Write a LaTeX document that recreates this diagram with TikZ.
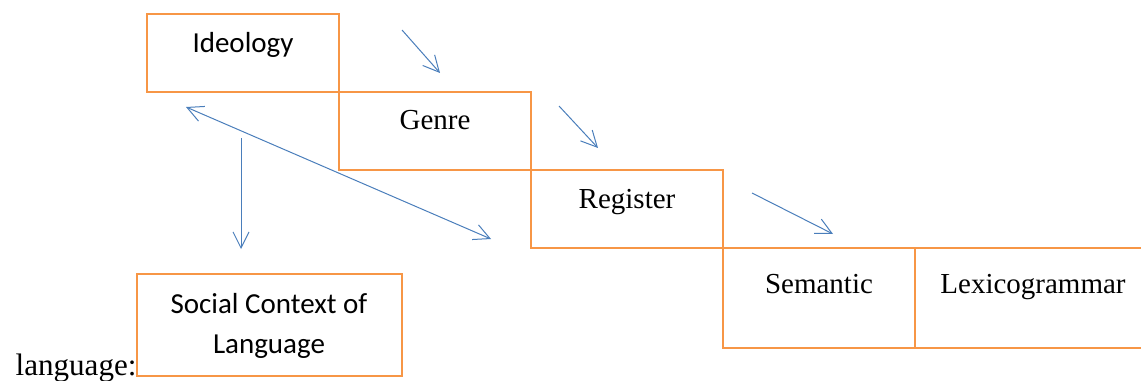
\documentclass[tikz,border=0pt]{standalone}
\usepackage{fontspec}
\setmainfont{Liberation Serif}
\newfontfamily\calibri{Carlito}
\usepackage{tikz}
\usetikzlibrary{arrows.meta}
\definecolor{orangecadre}{HTML}{F79646}
\definecolor{bleufleche}{HTML}{4A7EBB}

\begin{document}
\begin{tikzpicture}[x=0.75pt,y=-0.75pt,
  cadre/.style={draw=\colcadre,line width=2pt},
  fleche/.style={draw=\colfleche,line width=0.75pt,-{Straight Barb[length=12pt,width=12pt]}},
  texte/.style={anchor=base,align=center,font=\fontsize{21.75}{30}\selectfont},
  textesans/.style={texte,font=\calibri\fontsize{21.75}{30}\selectfont}]

%Couleurs
\def \colcadre{orangecadre}
\def \colfleche{bleufleche}

%Dimensions des cadres
\def \largeurcadre{192}
\def \hauteurcadre{78}
\def \hauteurbas{100}

\clip (0,0) rectangle (1141,381);

%%% Escalier %%%
\draw[cadre] (147,14) rectangle ++(\largeurcadre,\hauteurcadre);
\draw[cadre] (339,92) rectangle ++(\largeurcadre,\hauteurcadre);
\draw[cadre] (531,170) rectangle ++(\largeurcadre,\hauteurcadre);
\draw[cadre] (723,248) rectangle ++(\largeurcadre,\hauteurbas);
\draw[cadre] (915,248) rectangle ++(240,\hauteurbas);

%Textes des cadres
\node[textesans] (ideologie) at (243,53) {Ideology};
\node[texte] (genre) at (435,130) {Genre};
\node[texte] (registre) at (627,208) {Register};
\node[texte] (semantique) at (819,293) {Semantic};
\node[texte] (lexique) at (1033,293) {Lexicogrammar};

%%% Contexte social %%%
\draw[cadre] (137,274) rectangle (402,376);
\node[textesans] (contexte) at (269,353) {Social Context of\\Language};
\node[anchor=base west,font=\fontsize{23.3}{28}\selectfont] (langage) at (11,375) {language:};

%Flèches
\coordinate (a1) at (402,30);  \coordinate (b1) at (440,73);
\coordinate (a2) at (559,106); \coordinate (b2) at (598,148);
\coordinate (a3) at (752,193); \coordinate (b3) at (833,234);
\coordinate (a4) at (241,138); \coordinate (b4) at (241,249);
\coordinate (a5) at (186,107); \coordinate (b5) at (491,239);

\draw[fleche] (a1) -- (b1);
\draw[fleche] (a2) -- (b2);
\draw[fleche] (a3) -- (b3);
\draw[fleche] (a4) -- (b4);
\draw[fleche,{Straight Barb[length=12pt,width=12pt]}-{Straight Barb[length=12pt,width=12pt]}] (a5) -- (b5);

\end{tikzpicture}
\end{document}
